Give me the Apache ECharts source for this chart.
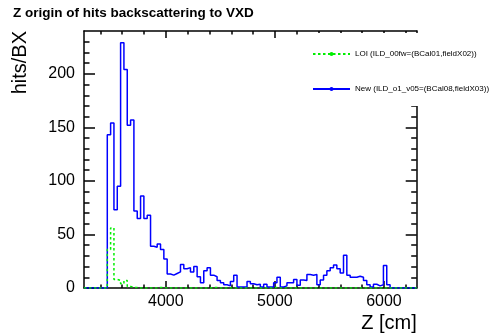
<!DOCTYPE html>
<html><head><meta charset="utf-8">
<script src="https://cdn.jsdelivr.net/npm/echarts@6/dist/echarts.min.js"></script>
<style>html,body{margin:0;padding:0;background:#fff}#c{width:491px;height:336px}</style>
</head><body><div id="c"></div>
<script>
// Histogram binning (x positions of the bins)
const binLow = 3250;
const binWidth = 30.5;
// Bin contents, 100 bins
const newCounts = [
  0,0,0,0,0,0,0,
  143,154,73,95,229,204,152,157,
  72,65,86,65,68,39,38,41,36,27,
  13,12,13.5,15,22,18,19,15,20,10.5,
  5,16,19,12,10.5,7,5,3,2,6,
  12,1,1,1,6,4,3,3.5,1,3.5,
  1,1,5,10,1,2,5,5,8,2.5,
  7.5,7,12.5,12,12.5,3,7.5,12,16,19,
  21.5,18,14,30.5,12,10,10,11,10,7,
  3,1,3.5,2,3,21,3,0,0,0,
  0,0,0,0,0
];
const loiCounts = [
  0,0,0,0,0,0,0,
  36,56,8,7,4,7,1.5,0.5,
  0.5,0,0,0,0,0,0,0.5,0.5,0,
  0,0,0,0,0,0,0,0,0,0,
  0,0,0,0.5,0.5,0,0,0,0,0,
  0,0,0,0,0,0,0,0,0,0,
  0,0,0.5,0,0,0,0,0,0,0,
  0,0,0,0,0,0,0,0,0,0,
  0,0,0,0,0,0,0,0,0,0,
  0,0,0,0,0,0,0,0,0,0,
  0,0,0,0,0
];
const seriesNames = ['LOI (ILD_00fw=(BCal01,fieldX02))', 'New (ILD_o1_v05=(BCal08,fieldX03))'];
const xMajorTicks = [4000, 5000, 6000];
const xMinorTicks = [3400,3600,3800,4200,4400,4600,4800,5200,5400,5600,5800,6200];
const yMajorTicks = [0, 50, 100, 150, 200];
const yMinorTicks = [10,20,30,40,60,70,80,90,110,120,130,140,160,170,180,190,210,220,230];

function toSteps(counts) {
  const pts = counts.map((c, i) => [binLow + i * binWidth, c]);
  pts.push([binLow + counts.length * binWidth, counts[counts.length - 1]]);
  return pts;
}

const FONT = 'Liberation Sans, Arial, Helvetica, sans-serif';
const black = '#000';
const xBase = {type: 'value', min: 3250, max: 6300, splitLine: {show: false}};
const yBase = {type: 'value', min: 0, max: 240, splitLine: {show: false}};
function lineOn(show) { return {show: show, onZero: false, lineStyle: {color: black, width: 1.5}}; }
function ticks(vals, len) { return {show: true, inside: true, length: len, customValues: vals, lineStyle: {color: black, width: 1.5}}; }

const chart = echarts.init(document.getElementById('c'), null, {renderer: 'canvas'});
chart.setOption({
  animation: false,
  backgroundColor: '#fff',
  title: {
    text: 'Z origin of hits backscattering to VXD',
    left: 13, top: 6, padding: 0,
    textStyle: {fontSize: 13.5, fontWeight: 'bold', color: black, fontFamily: FONT}
  },
  grid: {left: 84, right: 74.3, top: 31, bottom: 48, containLabel: false},
  legend: {
    orient: 'vertical', left: 308, top: 33,
    data: seriesNames,
    itemWidth: 37, itemHeight: 5, itemGap: 27,
    textStyle: {fontSize: 8, color: black, fontFamily: FONT},
    backgroundColor: '#fff',
    padding: [17, 20, 13, 4]
  },
  xAxis: [
    Object.assign({}, xBase, {
      position: 'bottom', axisLine: lineOn(true), axisTick: ticks(xMajorTicks, 7),
      axisLabel: {customValues: xMajorTicks, fontSize: 16, color: black, margin: 6, fontFamily: FONT, formatter: v => String(v)},
      name: 'Z [cm]', nameLocation: 'end', nameGap: 0, nameMoveOverlap: false,
      nameTextStyle: {fontSize: 20, color: black, fontFamily: FONT, align: 'right', verticalAlign: 'top', padding: [25, 0, 0, 0]}
    }),
    Object.assign({}, xBase, {position: 'bottom', axisLine: lineOn(false), axisTick: ticks(xMinorTicks, 3.5), axisLabel: {show: false}}),
    Object.assign({}, xBase, {position: 'top', axisLine: lineOn(true), axisTick: ticks(xMajorTicks, 7), axisLabel: {show: false}}),
    Object.assign({}, xBase, {position: 'top', axisLine: lineOn(false), axisTick: ticks(xMinorTicks, 3.5), axisLabel: {show: false}})
  ],
  yAxis: [
    Object.assign({}, yBase, {
      position: 'left', axisLine: lineOn(true), axisTick: ticks(yMajorTicks, 11),
      axisLabel: {customValues: yMajorTicks, fontSize: 16, color: black, margin: 9, fontFamily: FONT, formatter: v => String(v)},
      name: 'hits/BX', nameLocation: 'end', nameGap: 0, nameRotate: 90, nameMoveOverlap: false,
      nameTextStyle: {fontSize: 20, color: black, fontFamily: FONT, align: 'right', verticalAlign: 'bottom', padding: [0, 0, 54, 0]}
    }),
    Object.assign({}, yBase, {position: 'left', axisLine: lineOn(false), axisTick: ticks(yMinorTicks, 5.5), axisLabel: {show: false}}),
    Object.assign({}, yBase, {position: 'right', axisLine: lineOn(true), axisTick: ticks(yMajorTicks, 11), axisLabel: {show: false}}),
    Object.assign({}, yBase, {position: 'right', axisLine: lineOn(false), axisTick: ticks(yMinorTicks, 5.5), axisLabel: {show: false}})
  ],
  series: [
    {
      name: seriesNames[1], type: 'line', step: 'end', xAxisIndex: 0, yAxisIndex: 0,
      data: toSteps(newCounts), symbol: 'circle', symbolSize: 4, showSymbol: false,
      itemStyle: {color: '#0000ff'}, lineStyle: {color: '#0000ff', width: 1.5}, z: 3
    },
    {
      name: seriesNames[0], type: 'line', step: 'end', xAxisIndex: 0, yAxisIndex: 0,
      data: toSteps(loiCounts), symbol: 'circle', symbolSize: 4, showSymbol: false,
      itemStyle: {color: '#00ee00'}, lineStyle: {color: '#00ee00', width: 1.5, type: [2.5, 2.5]}, z: 4
    }
  ]
});
</script></body></html>
